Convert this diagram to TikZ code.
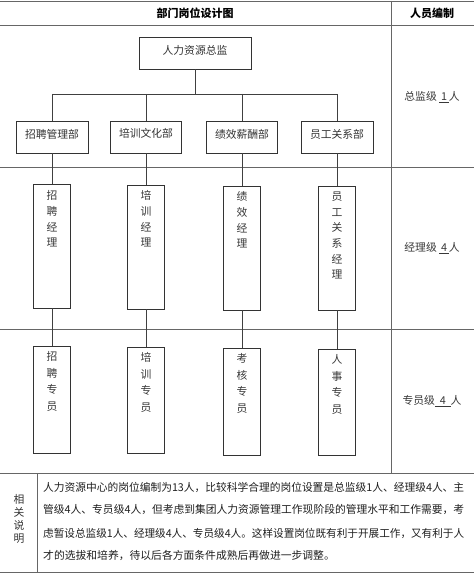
\documentclass[tikz,border=0pt]{standalone}
\usepackage{graphicx}
\usepackage{fontspec}
\setmainfont{Noto Sans CJK SC}
\begin{document}
\begin{tikzpicture}[x=1pt,y=-1pt,
  tline/.style={draw=black!60,line width=0.9pt},
  box/.style={draw=black!80,line width=0.9pt,inner sep=0pt,fill=white},
  btxt/.style={font=\fontsize{10.8}{12}\selectfont,text=black!80,inner sep=0pt},
  vtxt/.style={font=\fontsize{10.8}{15.7}\selectfont,text=black!78,inner sep=0pt,align=center,anchor=north},
  stxt/.style={font=\fontsize{10.8}{16.5}\selectfont,text=black!78,inner sep=0pt,align=center,anchor=north},
  rtxt/.style={font=\fontsize{10.8}{12}\selectfont,text=black!78,inner sep=0pt},
  ptxt/.style={font=\fontsize{10.8}{12}\selectfont,text=black!88,inner sep=0pt,anchor=west},
  htxt/.style={font=\fontsize{11}{12}\selectfont\bfseries,text=black,inner sep=0pt},
  conn/.style={draw=black!75,line width=0.9pt}]
\useasboundingbox (0,0) rectangle (474,575);
\fill[white] (0,0) rectangle (474,575);
% table
\draw[tline] (0,1) -- (474,1);
\draw[tline] (0,25) -- (474,25);
\draw[tline] (0,167.5) -- (474,167.5);
\draw[tline] (0,329) -- (474,329);
\draw[tline] (0,473) -- (474,473);
\draw[tline] (0,572) -- (474,572);
\draw[tline] (391,1) -- (391,473);
\draw[tline] (37,473) -- (37,572);
% headers
\node[htxt] (h1) at (195,13) {部门岗位设计图};
\node[htxt] (h2) at (432,13) {人员编制};
% right column
\node[rtxt] (r1) at (432,97) {总监级 \underline{\,1\,}人};
\node[rtxt] (r2) at (432,248) {经理级 \underline{\,4\,}人};
\node[rtxt] (r3) at (432,401) {专员级\underline{\ \ 4\ \ }人};
% top box
\node[box,minimum width=112pt,minimum height=32pt] (top) at (195,53) {};
\node[btxt] (ttop) at ([yshift=3pt]top.center) {人力资源总监};
% departments
\node[box,minimum width=72pt,minimum height=32pt] (d1) at (52,137) {};
\node[box,minimum width=71pt,minimum height=32pt] (d2) at (146,137) {};
\node[box,minimum width=71pt,minimum height=32pt] (d3) at (242,137) {};
\node[box,minimum width=72pt,minimum height=32pt] (d4) at (337,137) {};
\node[btxt] (td1) at ([yshift=3pt]d1.center) {招聘管理部};
\node[btxt] (td2) at ([yshift=4pt]d2.center) {培训文化部};
\node[btxt] (td3) at ([yshift=3pt]d3.center) {绩效薪酬部};
\node[btxt] (td4) at ([yshift=3pt]d4.center) {员工关系部};
% managers
\node[box,minimum width=37pt,minimum height=124pt] (m1) at (52,246) {};
\node[box,minimum width=37pt,minimum height=124pt] (m2) at (146,247) {};
\node[box,minimum width=37pt,minimum height=124pt] (m3) at (242,248) {};
\node[box,minimum width=37pt,minimum height=124pt] (m4) at (337,248) {};
\node[vtxt] (tm1) at ([yshift=-7pt]m1.north) {招\\聘\\经\\理};
\node[vtxt] (tm2) at ([yshift=-6pt]m2.north) {培\\训\\经\\理};
\node[vtxt] (tm3) at ([yshift=-6pt]m3.north) {绩\\效\\经\\理};
\node[vtxt] (tm4) at ([yshift=-6pt]m4.north) {员\\工\\关\\系\\经\\理};
% specialists
\node[box,minimum width=37pt,minimum height=107pt] (s1) at (52,399.5) {};
\node[box,minimum width=37pt,minimum height=106pt] (s2) at (146,400) {};
\node[box,minimum width=37pt,minimum height=107pt] (s3) at (242,401.5) {};
\node[box,minimum width=37pt,minimum height=106pt] (s4) at (337,402) {};
\node[stxt] (ts1) at ([yshift=-6pt]s1.north) {招\\聘\\专\\员};
\node[stxt] (ts2) at ([yshift=-6pt]s2.north) {培\\训\\专\\员};
\node[stxt] (ts3) at ([yshift=-6pt]s3.north) {考\\核\\专\\员};
\node[stxt] (ts4) at ([yshift=-6pt]s4.north) {人\\事\\专\\员};
% connectors
\coordinate (bus) at (0,94);
\draw[conn] (top.south) -- (top.south |- bus);
\draw[conn] (d1.north |- bus) -- (d4.north |- bus);
\foreach \i in {1,2,3,4}{
  \draw[conn] (d\i.north |- bus) -- (d\i.north);
  \draw[conn] (d\i.south) -- (m\i.north);
  \draw[conn] (m\i.south) -- (s\i.north);
}
% notes
\node[font=\fontsize{10.8}{13}\selectfont,text=black!80,inner sep=0pt,align=center] (lab) at (19,519) {相\\关\\说\\明};
\node[ptxt] (p1) at (43,487) {\resizebox{421pt}{\height}{人力资源中心的岗位编制为13人，比较科学合理的岗位设置是总监级1人、经理级4人、主}};
\node[ptxt] (p2) at (43,510) {\resizebox{421pt}{\height}{管级4人、专员级4人，但考虑到集团人力资源管理工作现阶段的管理水平和工作需要，考}};
\node[ptxt] (p3) at (43,533) {\resizebox{421pt}{\height}{虑暂设总监级1人、经理级4人、专员级4人。这样设置岗位既有利于开展工作，又有利于人}};
\node[ptxt] (p4) at (43,555) {才的选拔和培养，待以后各方面条件成熟后再做进一步调整。};
\end{tikzpicture}
\end{document}
